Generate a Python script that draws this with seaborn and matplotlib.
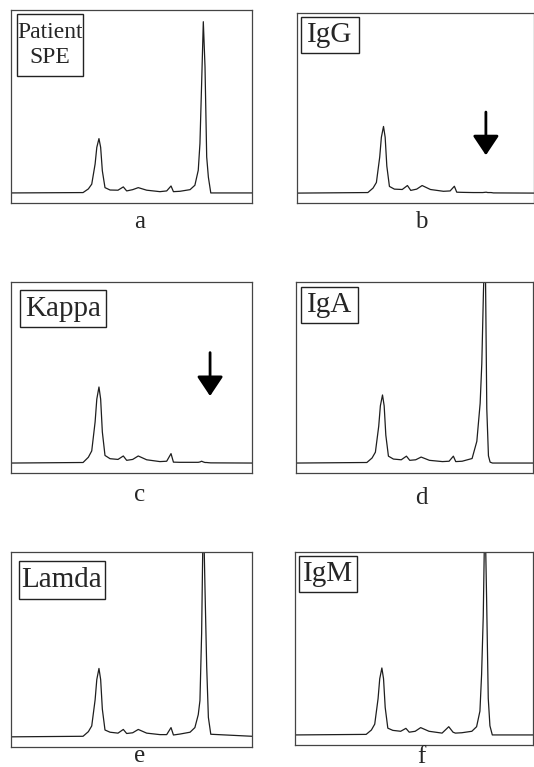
import matplotlib
matplotlib.use("Agg")
from matplotlib import pyplot as plt
from matplotlib.patches import Rectangle
import seaborn as sns

# densitometry traces, x in % of scan width, y in % of panel height above baseline
scan_x = [0, 29.9, 32.1, 33.5, 34.9, 35.6, 36.5, 37.2, 37.9, 39.0, 41.1, 44.4, 46.6, 48.0, 50.5, 52.8,
          56.3, 61.8, 64.6, 66.4, 67.4, 70.1, 74.3, 76.3, 77.7, 78.4, 79.1, 79.8, 80.5, 81.2, 81.9, 82.9, 100]

y_spe = [0, 0.2, 2.2, 4.8, 15.8, 24.9, 29.7, 24.9, 12.1, 2.9, 1.6, 1.5, 3.3, 1.1, 1.8, 2.9,
         1.5, 0.7, 1.1, 3.8, 0.7, 0.9, 1.8, 4.2, 12.4, 27, 59.9, 93.6, 69, 19.7, 8.6, 0, 0]
y_igg = [0, 0.3, 2.8, 5.9, 20, 31, 37, 31, 15, 3.7, 2.2, 2.0, 4.2, 1.5, 2.2, 4.2,
         2.0, 1.0, 1.2, 3.8, 0.5, 0.4, 0.3, 0.3, 0.3, 0.3, 0.4, 0.5, 0.3, 0.3, 0.3, 0.1, 0]
y_kappa = [0, 0.3, 3.2, 6.7, 22.7, 35.3, 42, 35.3, 17.2, 4.2, 2.4, 2.0, 3.9, 1.5, 2.0, 3.9,
           1.8, 0.8, 1.0, 5.2, 0.5, 0.4, 0.4, 0.4, 0.4, 0.6, 1.0, 0.6, 0.3, 0.3, 0.2, 0.1, 0]
y_iga = [0, 0.3, 2.8, 6.0, 20.3, 31.6, 37.6, 31.6, 15.4, 3.8, 2.2, 1.8, 3.8, 1.5, 1.8, 3.3,
         1.5, 0.8, 1.0, 3.8, 0.8, 1.0, 2.5, 12, 33, 55, 95, 125, 30, 4, 0.5, 0, 0]
y_lamda = [0, 0.3, 2.8, 5.9, 20, 31, 37, 31, 15, 3.7, 2.5, 2.0, 4.0, 1.8, 2.2, 4.0,
           2.0, 1.2, 1.2, 5.0, 1.0, 1.5, 2.5, 5.0, 12, 19.6, 56, 125, 80, 38, 10.5, 1.4, 0.3]
y_igm = [0, 0.3, 2.7, 5.9, 19.8, 30.7, 36.6, 30.7, 15.0, 3.7, 2.5, 2.0, 3.6, 1.5, 2.0, 4.0,
         2.0, 1.0, 4.5, 1.5, 1.0, 1.2, 2.0, 4.5, 13, 33, 65, 125, 75, 20, 5, 0, 0]

traces = [y_spe, y_igg, y_kappa, y_iga, y_lamda, y_igm]
box_labels = ["Patient\nSPE", "IgG", "Kappa", "IgA", "Lamda", "IgM"]
sub_labels = ["a", "b", "c", "d", "e", "f"]
# arrows mark the missing band: (x, tail y, tip y)
arrows = {1: (79.7, 45, 21), 2: (82.6, 61, 37)}

W, H = 534, 767
# panel frames in pixels: left, top, right, bottom
frames = [(11, 10, 252, 203), (297, 13, 534, 203),
          (11, 282, 252, 473), (296, 282, 533, 473),
          (11, 552, 252, 747), (295, 552, 533, 745)]
# label boxes in pixels: left, top, right, bottom
boxes = [(17, 14, 83, 76), (301, 17, 359, 53),
         (20, 290, 106, 327), (301, 287, 358, 323),
         (19, 561, 105, 599), (299, 556, 357, 592)]
label_pos = [(140, 222), (421, 222), (140, 495), (421, 498), (140, 756), (421, 757)]

sns.set_style("white")
plt.rcParams["font.family"] = ["Liberation Serif", "DejaVu Serif"]

fig = plt.figure(figsize=(W / 100, H / 100), dpi=100)

for i, ys in enumerate(traces):
    l, t, r, b = frames[i]
    fw, fh = r - l, b - t
    ax = fig.add_axes([l / W, 1 - b / H, fw / W, fh / H])
    sns.lineplot(x=scan_x, y=ys, ax=ax, color="#1e1e1e", linewidth=0.9)
    ax.set_xlim(0, 100)
    ax.set_ylim(-5.5, 100)
    ax.set_xticks([])
    ax.set_yticks([])
    for sp in ax.spines.values():
        sp.set_visible(True)
        sp.set_color("#444444")
        sp.set_linewidth(0.9)

    bl, bt, br, bb = boxes[i]
    x0, x1 = (bl - l) / fw, (br - l) / fw
    y0, y1 = 1 - (bb - t) / fh, 1 - (bt - t) / fh
    ax.add_patch(Rectangle((x0, y0), x1 - x0, y1 - y0, transform=ax.transAxes,
                           fc="white", ec="#222222", lw=1.0, zorder=3))
    fs = 17 if i == 0 else 21
    ax.text((x0 + x1) / 2, (y0 + y1) / 2, box_labels[i], transform=ax.transAxes,
            ha="center", va="center", multialignment="center", fontsize=fs,
            linespacing=1.2, zorder=4)

    if i in arrows:
        ax_x, ya, yb = arrows[i]
        ax.annotate("", xy=(ax_x, yb), xytext=(ax_x, ya),
                    arrowprops=dict(arrowstyle="-|>,head_length=0.6,head_width=0.4",
                                    color="black", lw=2, mutation_scale=20, shrinkA=0, shrinkB=0))

    lx, ly = label_pos[i]
    fig.text(lx / W, 1 - ly / H, sub_labels[i], ha="center", va="center", fontsize=18)

fig.savefig("out.png", dpi=100)
plt.close(fig)
